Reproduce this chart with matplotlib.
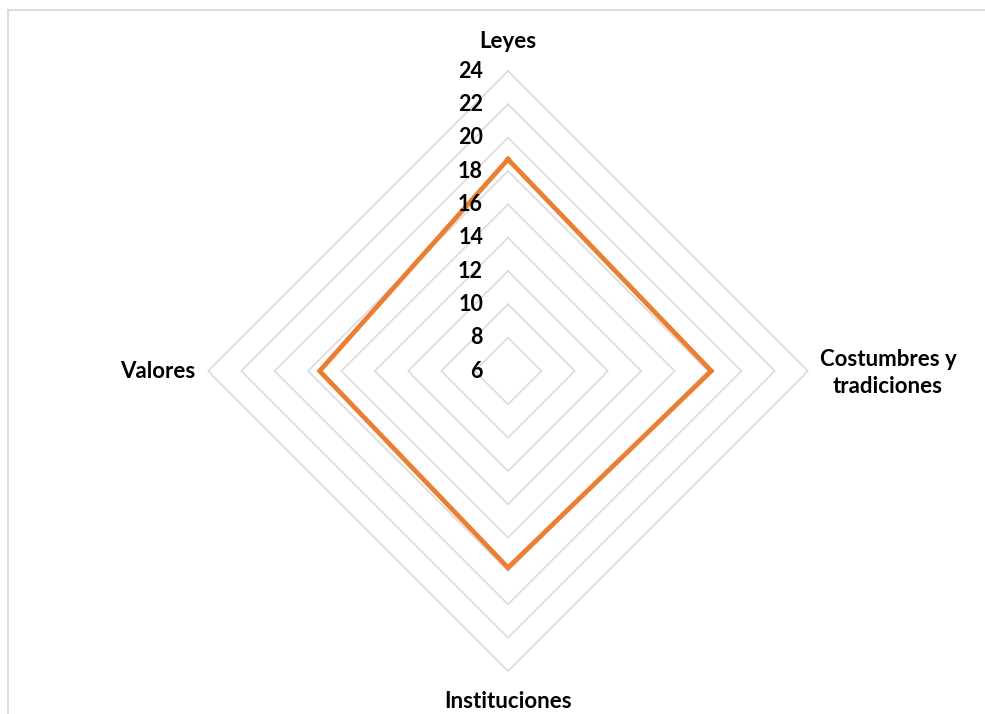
import numpy as np
import matplotlib
matplotlib.use("Agg")
import matplotlib.pyplot as plt

categories = ["Leyes", "Costumbres y\ntradiciones", "Instituciones", "Valores"]
values = [18.7, 18.2, 17.8, 17.3]
ticks = [6, 8, 10, 12, 14, 16, 18, 20, 22, 24]
rmin, rmax = 6, 24

plt.rcParams['font.family'] = ['Lato', 'DejaVu Sans']

# clockwise from top
angles = np.pi / 2 - np.arange(len(categories)) * 2 * np.pi / len(categories)


def to_xy(vals):
    r = np.asarray(vals, dtype=float) - rmin
    x = r * np.cos(angles)
    y = r * np.sin(angles)
    return np.append(x, x[0]), np.append(y, y[0])


fig = plt.figure(figsize=(9.85, 7.14), dpi=100)
ax = fig.add_axes([0, 0, 1, 1])
scale = (rmax - rmin) / 300.0  # data units per pixel
ax.set_xlim(-508 * scale, 477 * scale)
ax.set_ylim(-343 * scale, 371 * scale)
ax.axis('off')

# grid rings
for t in ticks[1:]:
    gx, gy = to_xy([t] * len(categories))
    ax.plot(gx, gy, color='#d9d9d9', lw=1.1, zorder=1)

# data line
dx, dy = to_xy(values)
ax.plot(dx, dy, color='#ed7d31', lw=3.4, solid_joinstyle='miter', zorder=2)

# radial tick labels
for t in ticks:
    ax.text(-25 * scale, t - rmin, str(t), ha='right', va='center',
            fontsize=15.5, fontweight='bold', color='black', zorder=3)

# category labels
ax.text(0, 329 * scale, categories[0], ha='center', va='center',
        fontsize=16, fontweight='bold')
ax.text(380 * scale, -2 * scale, categories[1], ha='center', va='center',
        fontsize=16, fontweight='bold', linespacing=1.3)
ax.text(0, -331 * scale, categories[2], ha='center', va='center',
        fontsize=16, fontweight='bold')
ax.text(-313 * scale, 0, categories[3], ha='right', va='center',
        fontsize=16, fontweight='bold')

# chart frame
fig.add_artist(plt.Line2D([8 / 985, 8 / 985], [0, 1 - 10 / 714],
                          transform=fig.transFigure, color='#d9d9d9', lw=1.3))
fig.add_artist(plt.Line2D([8 / 985, 1], [1 - 10 / 714, 1 - 10 / 714],
                          transform=fig.transFigure, color='#d9d9d9', lw=1.3))

fig.savefig("out.png", dpi=100)
